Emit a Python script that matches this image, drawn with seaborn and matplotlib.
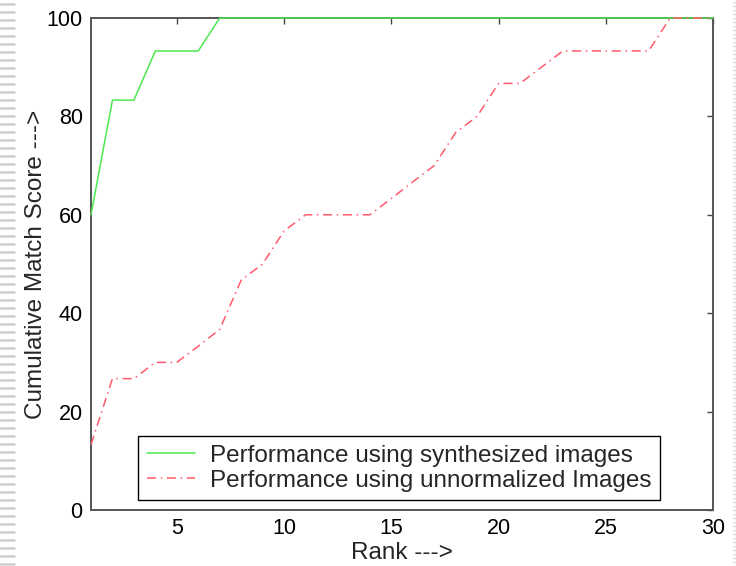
import matplotlib
matplotlib.use("Agg")
import matplotlib.pyplot as plt
from matplotlib.lines import Line2D
import numpy as np
import pandas as pd
import seaborn as sns

# Cumulative match score (%) for ranks 1..30
rank = list(range(1, 31))
synthesized = [60.0, 83.3, 83.3, 93.3, 93.3, 93.3, 100, 100, 100, 100,
               100, 100, 100, 100, 100, 100, 100, 100, 100, 100,
               100, 100, 100, 100, 100, 100, 100, 100, 100, 100]
unnormalized = [13.3, 26.7, 26.7, 30.0, 30.0, 33.3, 36.7, 46.7, 50.0, 56.7,
                60.0, 60.0, 60.0, 60.0, 63.3, 66.7, 70.0, 76.7, 80.0, 86.7,
                86.7, 90.0, 93.3, 93.3, 93.3, 93.3, 93.3, 100, 100, 100]
labels = ["Performance using synthesized images",
          "Performance using unnormalized Images"]
x_ticks = [5, 10, 15, 20, 25, 30]
y_ticks = [0, 20, 40, 60, 80, 100]

GREEN = "#4ee84e"
RED = "#ff5a6e"
DASHDOT = (6, 3, 1, 3)

sns.set_theme(style="white")
plt.rcParams["font.family"] = ["Liberation Sans", "DejaVu Sans"]

df = pd.DataFrame({
    "Rank": rank * 2,
    "Score": synthesized + unnormalized,
    "Series": [labels[0]] * len(rank) + [labels[1]] * len(rank),
})

fig = plt.figure(figsize=(7.36, 5.66), dpi=100)
ax = fig.add_axes([91 / 736, 56 / 566, 622 / 736, 492 / 566])

sns.lineplot(data=df, x="Rank", y="Score", hue="Series", style="Series",
             palette=[GREEN, RED],
             dashes=[(None, None), DASHDOT], linewidth=1.1,
             ax=ax, legend=False)
# draw curves above the frame so the 100% plateau shows on the top edge
for i, ln in enumerate(ax.get_lines()):
    ln.set_zorder(3 + i)
    ln.set_clip_on(False)

ax.set_xlim(1, 30)
ax.set_ylim(0, 100)
ax.set_xticks(x_ticks)
ax.set_yticks(y_ticks)
ax.tick_params(direction="in", length=4, width=1, colors="#444444",
               top=True, right=True, labelsize=15.5, labelcolor="black",
               pad=6)
for s in ax.spines.values():
    s.set_color("#555555")
    s.set_linewidth(1.4)

ax.set_xlabel("Rank --->", fontsize=17.5, labelpad=2)
ax.set_ylabel("Cumulative Match Score --->", fontsize=17.5, labelpad=0)

handles = [Line2D([], [], color=GREEN, lw=1.1),
           Line2D([], [], color=RED, lw=1.1, dashes=DASHDOT)]
leg = ax.legend(handles, labels, loc="lower center",
                bbox_to_anchor=(0.495, 0.02), fontsize=17.5, frameon=True,
                fancybox=False, edgecolor="black", framealpha=1,
                borderpad=0.35, handlelength=2.0, labelspacing=0.12,
                handletextpad=0.6, borderaxespad=0)
leg.get_frame().set_linewidth(1.0)
leg.set_zorder(10)

# slide background trim: striped left edge, dotted right edge
for y in np.arange(4, 566, 8):
    fig.add_artist(Line2D([0, 14 / 736], [1 - y / 566] * 2,
                          transform=fig.transFigure, color="#cfcfcf", lw=1.8))
for y in np.arange(2, 566, 4):
    fig.add_artist(Line2D([733 / 736, 736 / 736], [1 - y / 566] * 2,
                          transform=fig.transFigure, color="#dddddd", lw=1.0))

fig.savefig("out.png", dpi=100)
